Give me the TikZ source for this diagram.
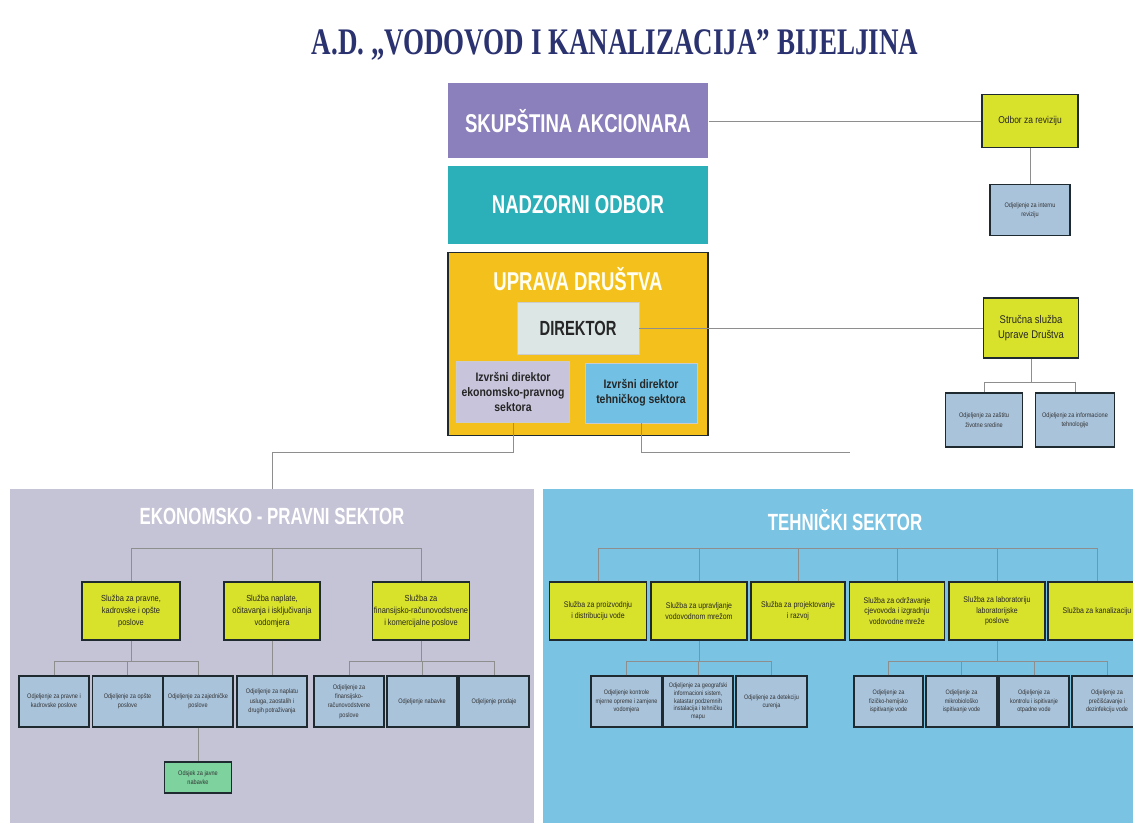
\documentclass[tikz,border=0pt]{standalone}
\usepackage{fontspec}
\setmainfont{Liberation Sans}[FakeStretch=0.85]
\newfontfamily\headfont{Liberation Sans}[FakeStretch=0.72]
\newfontfamily\titlefont{Liberation Serif}[FakeStretch=0.72]

\definecolor{titleblue}{HTML}{2B3270}
\definecolor{skupviolet}{HTML}{8C80BC}
\definecolor{nadzteal}{HTML}{2BAFB8}
\definecolor{upravagold}{HTML}{F4C11C}
\definecolor{dirgray}{HTML}{DCE7E5}
\definecolor{ekonlav}{HTML}{C8C4DC}
\definecolor{tehblue}{HTML}{72C1E4}
\definecolor{lime}{HTML}{D9E22B}
\definecolor{steel}{HTML}{A9C3DB}
\definecolor{ekonbg}{HTML}{C5C3D6}
\definecolor{tehbg}{HTML}{7AC3E3}
\definecolor{mint}{HTML}{7DD29E}
\definecolor{linegray}{HTML}{8E8E8E}
\definecolor{boxline}{HTML}{1E2A30}

\newlength\px
\setlength\px{0.03cm}

\tikzset{
  box/.style={rectangle, inner sep=1pt, align=center, line width=0.9pt},
  head/.style={box, text=white, font=\headfont\bfseries\fontsize{22}{26}\selectfont},
  izvrsni/.style={box, draw=white!80!black, line width=0.6pt, text=black!85,
    font=\bfseries\fontsize{10.5}{13}\selectfont},
  sluzba/.style={box, fill=lime, draw=boxline, minimum height=58\px,
    text=black!85, font=\fontsize{7.5}{10}\selectfont},
  odjel/.style={box, fill=steel, draw=boxline, minimum width=70\px, minimum height=51\px,
    text=black!80, font=\fontsize{5.6}{8}\selectfont},
  sektor/.style={rectangle, inner sep=0pt},
  conn/.style={draw=linegray, line width=0.6pt},
}

\begin{document}
\begin{tikzpicture}[x=0.03cm, y=-0.03cm]
\clip (0,0) rectangle (1133,823);
\fill[white] (0,0) rectangle (1133,823);

\node[text=titleblue, font=\titlefont\bfseries\fontsize{32}{36}\selectfont] (naslov) at (615,45)
  {A.D. „VODOVOD I KANALIZACIJA” BIJELJINA};

% sektori
\node[sektor, fill=ekonbg, minimum width=524\px, minimum height=338\px] (ekon) at (272,658) {};
\node[sektor, fill=tehbg, minimum width=600\px, minimum height=338\px] (teh) at (843,658) {};
\node[head, font=\headfont\bfseries\fontsize{20}{24}\selectfont] (ekonnaslov) at (272,516) {EKONOMSKO - PRAVNI SEKTOR};
\node[head, font=\headfont\bfseries\fontsize{20}{24}\selectfont] (tehnaslov) at (845,520) {TEHNIČKI SEKTOR};

% uprava
\node[head, fill=skupviolet, minimum width=260\px, minimum height=75\px] (skup) at (578,121) {SKUPŠTINA AKCIONARA};
\node[head, fill=nadzteal, minimum width=260\px, minimum height=78\px] (nadz) at (578,205) {NADZORNI ODBOR};
\node[box, fill=upravagold, draw=boxline, line width=1.2pt, minimum width=260\px, minimum height=183\px] (uprava) at (578,344) {};
\node[head, text=white!95!yellow] (upravanaslov) at (578,279) {UPRAVA DRUŠTVA};
\node[izvrsni, fill=dirgray, minimum width=122\px, minimum height=52\px,
  font=\headfont\bfseries\fontsize{17.5}{20}\selectfont] (dir) at (578,328) {DIREKTOR};
\node[izvrsni, fill=ekonlav, minimum width=113\px, minimum height=61\px] (izvep) at (513,392)
  {Izvršni direktor\\ekonomsko-pravnog\\sektora};
\node[izvrsni, fill=tehblue, minimum width=112\px, minimum height=60\px] (izvteh) at (641,393)
  {Izvršni direktor\\tehničkog sektora};

% desna strana
\node[sluzba, minimum width=96\px, minimum height=53\px, font=\fontsize{8.5}{10}\selectfont] (odbor) at (1030,121) {Odbor za reviziju};
\node[odjel, minimum width=80\px] (intrev) at (1030,210) {Odjeljenje za internu\\reviziju};
\node[sluzba, minimum width=95\px, minimum height=60\px, font=\fontsize{9.5}{13}\selectfont] (strucna) at (1031,328)
  {Stručna služba\\Uprave Društva};
\node[odjel, minimum width=77\px, minimum height=54\px] (zivsr) at (984,420) {Odjeljenje za zaštitu\\životne sredine};
\node[odjel, minimum width=79\px, minimum height=54\px] (infteh) at (1075,420) {Odjeljenje za informacione\\tehnologije};

\coordinate (busS) at (1031,382);
\coordinate (busU) at (0,452);
\coordinate (tehkraj) at (850,452);

\draw[conn] (skup.east) -- (odbor.west);
\draw[conn] (odbor.south) -- (intrev.north);
\draw[conn] (dir.east) -- (strucna.west);
\draw[conn] (strucna.south) -- (strucna.south |- busS);
\draw[conn] (zivsr.north) -- (zivsr.north |- busS) -- (infteh.north |- busS) -- (infteh.north);
\draw[conn] (izvep.south) -- (izvep.south |- busU) -- (ekon.north |- busU) -- (ekon.north);
\draw[conn] (izvteh.south) -- (izvteh.south |- busU) -- (tehkraj);

% ekonomsko-pravni sektor
\node[sluzba, minimum width=98\px] (L1) at (131,611) {Služba za pravne,\\kadrovske i opšte\\poslove};
\node[sluzba, minimum width=96\px] (L2) at (272,611) {Služba naplate,\\očitavanja i isključivanja\\vodomjera};
\node[sluzba, minimum width=97\px] (L3) at (421,611) {Služba za\\finansijsko-računovodstvene\\i komercijalne poslove};

\node[odjel] (a1) at (54,701.5) {Odjeljenje za pravne i\\kadrovske poslove};
\node[odjel] (a2) at (127.5,701.5) {Odjeljenje za opšte\\poslove};
\node[odjel] (a3) at (198,701.5) {Odjeljenje za zajedničke\\poslove};
\node[odjel, fill=mint, minimum width=67\px, minimum height=31\px] (a4) at (198,777.5) {Odsjek za javne\\nabavke};
\node[odjel] (b1) at (272,701.5) {Odjeljenje za naplatu\\usluga, zaostalih i\\drugih potraživanja};
\node[odjel] (c1) at (349,701.5) {Odjeljenje za\\finansijsko-\\računovodstvene\\poslove};
\node[odjel] (c2) at (422,701.5) {Odjeljenje nabavke};
\node[odjel] (c3) at (494,701.5) {Odjeljenje prodaje};

\coordinate (busL) at (0,548);
\coordinate (busL1) at (0,661);
\draw[conn] (L1.north) -- (L1.north |- busL) -- (L3.north |- busL) -- (L3.north);
\draw[conn] (L2.north) -- (L2.north |- busL);
\draw[conn] (L1.south) -- (L1.south |- busL1);
\draw[conn] (a1.north) -- (a1.north |- busL1) -- (a3.north |- busL1) -- (a3.north);
\draw[conn] (a2.north) -- (a2.north |- busL1);
\draw[conn] (a3.south) -- (a4.north);
\draw[conn] (L2.south) -- (b1.north);
\draw[conn] (L3.south) -- (L3.south |- busL1);
\draw[conn] (c1.north) -- (c1.north |- busL1) -- (c3.north |- busL1) -- (c3.north);
\draw[conn] (c2.north) -- (c2.north |- busL1);

% tehnicki sektor
\node[sluzba, font=\fontsize{7}{9}\selectfont, minimum width=97\px] (T1) at (598,611) {Služba za proizvodnju\\i distribuciju vode};
\node[sluzba, font=\fontsize{7}{9}\selectfont, minimum width=96\px] (T2) at (699,611) {Služba za upravljanje\\vodovodnom mrežom};
\node[sluzba, font=\fontsize{7}{9}\selectfont, minimum width=94\px] (T3) at (798,611) {Služba za projektovanje\\i razvoj};
\node[sluzba, font=\fontsize{7}{9}\selectfont, minimum width=95\px] (T4) at (897,611) {Služba za održavanje\\cjevovoda i izgradnju\\vodovodne mreže};
\node[sluzba, font=\fontsize{7}{9}\selectfont, minimum width=96\px] (T5) at (997,611) {Služba za laboratoriju\\laboratorijske\\poslove};
\node[sluzba, font=\fontsize{7}{9}\selectfont, minimum width=98\px] (T6) at (1097,611) {Služba za kanalizaciju};

\node[odjel, minimum width=71\px, font=\fontsize{5.5}{7}\selectfont] (d1) at (626.5,701.5) {Odjeljenje kontrole\\mjerne opreme i zamjene\\vodomjera};
\node[odjel, font=\fontsize{5.5}{6.6}\selectfont] (d2) at (698,701.5) {Odjeljenje za geografski\\informacioni sistem,\\katastar podzemnih\\instalacija i tehničku\\mapu};
\node[odjel, minimum width=71\px, font=\fontsize{5.5}{7}\selectfont] (d3) at (771.5,701.5) {Odjeljenje za detekciju\\curenja};
\node[odjel, minimum width=69\px, font=\fontsize{5.5}{7}\selectfont] (e1) at (888.5,701.5) {Odjeljenje za\\fizičko-hemijsko\\ispitivanje vode};
\node[odjel, minimum width=71\px, font=\fontsize{5.5}{7}\selectfont] (e2) at (961.5,701.5) {Odjeljenje za\\mikrobiološko\\ispitivanje vode};
\node[odjel, font=\fontsize{5.5}{7}\selectfont] (e3) at (1034,701.5) {Odjeljenje za\\kontrolu i ispitivanje\\otpadne vode};
\node[odjel, font=\fontsize{5.5}{7}\selectfont] (e4) at (1107,701.5) {Odjeljenje za\\prečišćavanje i\\dezinfekciju vode};

\coordinate (busT) at (0,548);
\coordinate (busT1) at (0,661);
\draw[conn] (T1.north) -- (T1.north |- busT) -- (T6.north |- busT) -- (T6.north);
\foreach \t in {T2,T3,T4,T5}
  \draw[conn] (\t.north) -- (\t.north |- busT);
\draw[conn] (T2.south) -- (T2.south |- busT1);
\draw[conn] (d1.north) -- (d1.north |- busT1) -- (d3.north |- busT1) -- (d3.north);
\draw[conn] (d2.north) -- (d2.north |- busT1);
\draw[conn] (T5.south) -- (T5.south |- busT1);
\draw[conn] (e1.north) -- (e1.north |- busT1) -- (e4.north |- busT1) -- (e4.north);
\foreach \e in {e2,e3}
  \draw[conn] (\e.north) -- (\e.north |- busT1);
\end{tikzpicture}
\end{document}
